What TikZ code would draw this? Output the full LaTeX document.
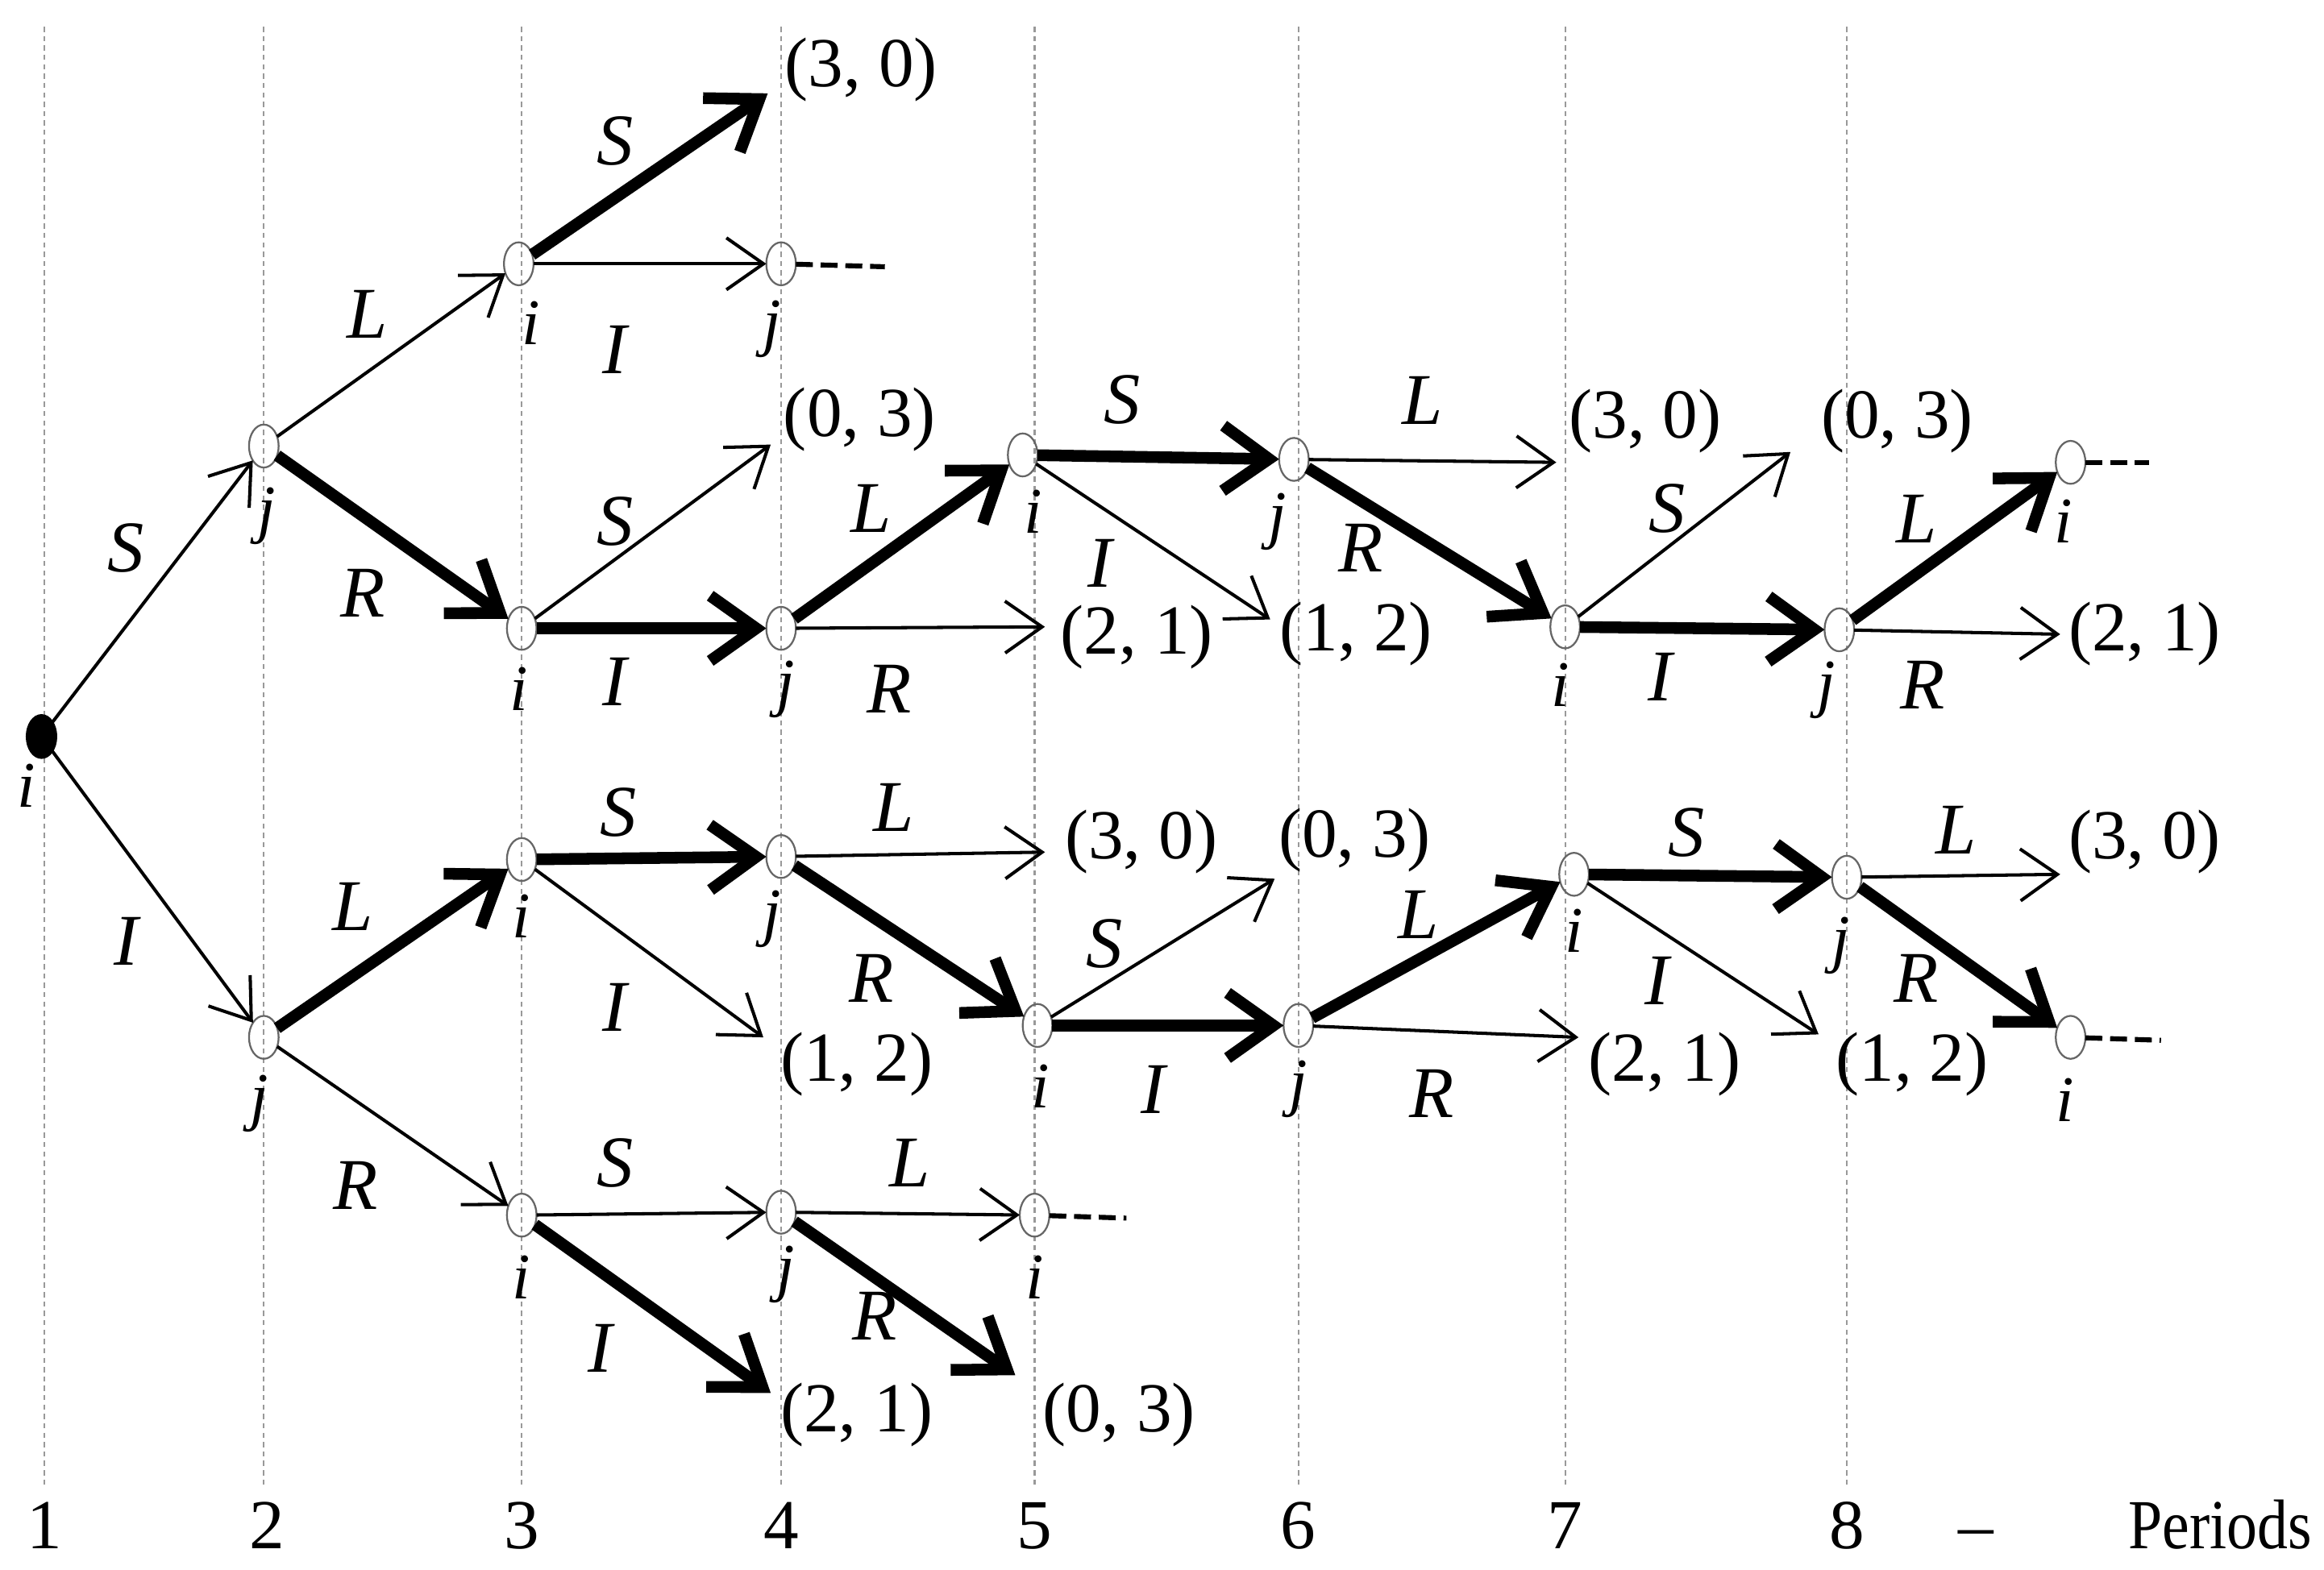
\documentclass[tikz,border=0pt]{standalone}
\usepackage{fontspec}
\usepackage{graphicx}
\setmainfont{Liberation Serif}
\usetikzlibrary{arrows.meta,shapes.geometric}
\begin{document}
\begin{tikzpicture}[x=0.02cm,y=-0.02cm,
 gridln/.style={draw=gray!80, line width=0.7pt, dash pattern=on 2pt off 1.6pt},
 st/.style={ellipse, draw=black!60, line width=0.7pt, minimum width=0.4cm, minimum height=0.58cm, inner sep=0pt, outer sep=0pt},
 rootst/.style={st, fill=black, draw=black},
 thinarr/.style={line width=1.25pt, -{Straight Barb[length=0.5cm, width=0.7cm]}},
 thickarr/.style={line width=4.5pt, -{Straight Barb[length=0.62cm, width=0.88cm]}},
 cont/.style={line width=1.9pt, dash pattern=on 6.5pt off 3pt},
 pay/.style={font=\fontsize{27}{32}\selectfont, inner sep=0pt},
 act/.style={font=\fontsize{28}{32}\selectfont\itshape, inner sep=0pt},
 pl/.style={font=\fontsize{25}{30}\selectfont\itshape, inner sep=0pt},
 ax/.style={font=\fontsize{27}{32}\selectfont, inner sep=0pt, anchor=base}
]
\useasboundingbox (0,0) rectangle (1568,1059);
% period grid
\foreach \x in {30,178,352,527,698,876,1056,1246}
  \draw[gridln] (\x,18) -- (\x,1003);
% axis
\node[ax] (x1) at (30,1045) {1};
\node[ax] (x2) at (180,1045) {2};
\node[ax] (x3) at (352,1045) {3};
\node[ax] (x4) at (527,1045) {4};
\node[ax] (x5) at (698,1045) {5};
\node[ax] (x6) at (876,1045) {6};
\node[ax] (x7) at (1056,1045) {7};
\node[ax] (x8) at (1246,1045) {8};
\node[ax] (xd) at (1333,1045) {--};
\node[ax] (xp) at (1498,1045) {\scalebox{0.87}[1]{Periods}};
% decision nodes
\node[rootst] (r) at (28,497) {};
\node[st] (a2) at (178,301) {};
\node[st] (b2) at (178,700) {};
\node[st] (a3) at (350,178) {};
\node[st] (b3) at (352,424) {};
\node[st] (c3) at (352,580) {};
\node[st] (d3) at (352,820) {};
\node[st] (a4) at (527,178) {};
\node[st] (b4) at (527,424) {};
\node[st] (c4) at (527,578) {};
\node[st] (d4) at (527,818) {};
\node[st] (a5) at (690,307) {};
\node[st] (b5) at (700,692) {};
\node[st] (c5) at (698,820) {};
\node[st] (a6) at (873,310) {};
\node[st] (b6) at (876,692) {};
\node[st] (a7) at (1056,423) {};
\node[st] (b7) at (1062,590) {};
\node[st] (a8) at (1241,425) {};
\node[st] (b8) at (1246,592) {};
\node[st] (a9) at (1397,312) {};
\node[st] (b9) at (1397,700) {};
% player labels
\node[pl] (lr) at (18,530) {i};
\node[pl] (la2) at (180,348) {j};
\node[pl] (lb2) at (175,745) {j};
\node[pl] (la3) at (358,218) {i};
\node[pl] (lb3) at (350,465) {i};
\node[pl] (lc3) at (352,618) {i};
\node[pl] (ld3) at (352,862) {i};
\node[pl] (la4) at (521,222) {j};
\node[pl] (lb4) at (530,465) {j};
\node[pl] (lc4) at (521,620) {j};
\node[pl] (ld4) at (530,860) {j};
\node[pl] (la5) at (697,345) {i};
\node[pl] (lb5) at (702,733) {i};
\node[pl] (lc5) at (698,862) {i};
\node[pl] (la6) at (862,352) {j};
\node[pl] (lb6) at (876,735) {j};
\node[pl] (la7) at (1053,462) {i};
\node[pl] (lb7) at (1062,628) {i};
\node[pl] (la8) at (1232,466) {j};
\node[pl] (lb8) at (1242,638) {j};
\node[pl] (la9) at (1392,352) {i};
\node[pl] (lb9) at (1393,742) {i};
% payoffs
\node[pay] (p5) at (581,47) {(3, 0)};
\node[pay] (p7) at (580,283) {(0, 3)};
\node[pay] (p10) at (767,430) {(2, 1)};
\node[pay] (p12) at (915,428) {(1, 2)};
\node[pay] (p13) at (1110,284) {(3, 0)};
\node[pay] (p15) at (1280,284) {(0, 3)};
\node[pay] (p18) at (1447,428) {(2, 1)};
\node[pay] (p22) at (578,718) {(1, 2)};
\node[pay] (p23) at (770,568) {(3, 0)};
\node[pay] (p25) at (914,567) {(0, 3)};
\node[pay] (p28) at (1123,718) {(2, 1)};
\node[pay] (p30) at (1290,718) {(1, 2)};
\node[pay] (p31) at (1447,568) {(3, 0)};
\node[pay] (p34) at (578,955) {(2, 1)};
\node[pay] (p36) at (755,955) {(0, 3)};
% arrow tips at payoffs
\coordinate (t5) at (518,63);
\coordinate (t7) at (520,300);
\coordinate (t10) at (705,423);
\coordinate (t12) at (857,418);
\coordinate (t13) at (1050,312);
\coordinate (t15) at (1208,305);
\coordinate (t18) at (1390,428);
\coordinate (t22) at (515,700);
\coordinate (t23) at (705,575);
\coordinate (t25) at (860,593);
\coordinate (t28) at (1065,700);
\coordinate (t30) at (1227,698);
\coordinate (t31) at (1390,590);
\coordinate (t34) at (520,940);
\coordinate (t36) at (685,928);
% continuation ends
\coordinate (k1) at (597,180);
\coordinate (k2) at (760,822);
\coordinate (k3) at (1450,312);
\coordinate (k4) at (1458,702);
% edges
\draw[thinarr] (r) -- (a2);
\draw[thinarr] (r) -- (b2);
\draw[thinarr] (a2) -- (a3);
\draw[thickarr] (a2) -- (b3);
\draw[thickarr] (a3) -- (t5);
\draw[thinarr] (a3) -- (a4);
\draw[thinarr] (b3) -- (t7);
\draw[thickarr] (b3) -- (b4);
\draw[thickarr] (b4) -- (a5);
\draw[thinarr] (b4) -- (t10);
\draw[thickarr] (a5) -- (a6);
\draw[thinarr] (a5) -- (t12);
\draw[thinarr] (a6) -- (t13);
\draw[thickarr] (a6) -- (a7);
\draw[thinarr] (a7) -- (t15);
\draw[thickarr] (a7) -- (a8);
\draw[thickarr] (a8) -- (a9);
\draw[thinarr] (a8) -- (t18);
\draw[thickarr] (b2) -- (c3);
\draw[thinarr] (b2) -- (d3);
\draw[thickarr] (c3) -- (c4);
\draw[thinarr] (c3) -- (t22);
\draw[thinarr] (c4) -- (t23);
\draw[thickarr] (c4) -- (b5);
\draw[thinarr] (b5) -- (t25);
\draw[thickarr] (b5) -- (b6);
\draw[thickarr] (b6) -- (b7);
\draw[thinarr] (b6) -- (t28);
\draw[thickarr] (b7) -- (b8);
\draw[thinarr] (b7) -- (t30);
\draw[thinarr] (b8) -- (t31);
\draw[thickarr] (b8) -- (b9);
\draw[thinarr] (d3) -- (d4);
\draw[thickarr] (d3) -- (t34);
\draw[thinarr] (d4) -- (c5);
\draw[thickarr] (d4) -- (t36);
% continuations
\draw[cont] (a4) -- (k1);
\draw[cont] (c5) -- (k2);
\draw[cont] (a9) -- (k3);
\draw[cont] (b9) -- (k4);
% action labels
\node[act] (e1) at (85,370) {S};
\node[act] (e2) at (85,635) {I};
\node[act] (e3) at (248,212) {L};
\node[act] (e4) at (245,400) {R};
\node[act] (e5) at (415,95) {S};
\node[act] (e6) at (415,236) {I};
\node[act] (e7) at (415,352) {S};
\node[act] (e8) at (415,460) {I};
\node[act] (e9) at (588,343) {L};
\node[act] (e10) at (600,465) {R};
\node[act] (e11) at (757,270) {S};
\node[act] (e12) at (742,380) {I};
\node[act] (e13) at (960,270) {L};
\node[act] (e14) at (918,370) {R};
\node[act] (e15) at (1125,343) {S};
\node[act] (e16) at (1120,457) {I};
\node[act] (e17) at (1293,350) {L};
\node[act] (e18) at (1297,462) {R};
\node[act] (e19) at (238,612) {L};
\node[act] (e20) at (240,800) {R};
\node[act] (e21) at (417,548) {S};
\node[act] (e22) at (415,680) {I};
\node[act] (e23) at (603,545) {L};
\node[act] (e24) at (588,660) {R};
\node[act] (e25) at (745,637) {S};
\node[act] (e26) at (778,735) {I};
\node[act] (e27) at (957,617) {L};
\node[act] (e28) at (966,738) {R};
\node[act] (e29) at (1138,562) {S};
\node[act] (e30) at (1118,662) {I};
\node[act] (e31) at (1320,560) {L};
\node[act] (e32) at (1293,660) {R};
\node[act] (e33) at (415,785) {S};
\node[act] (e34) at (405,910) {I};
\node[act] (e35) at (614,785) {L};
\node[act] (e36) at (590,888) {R};
\end{tikzpicture}
\end{document}
